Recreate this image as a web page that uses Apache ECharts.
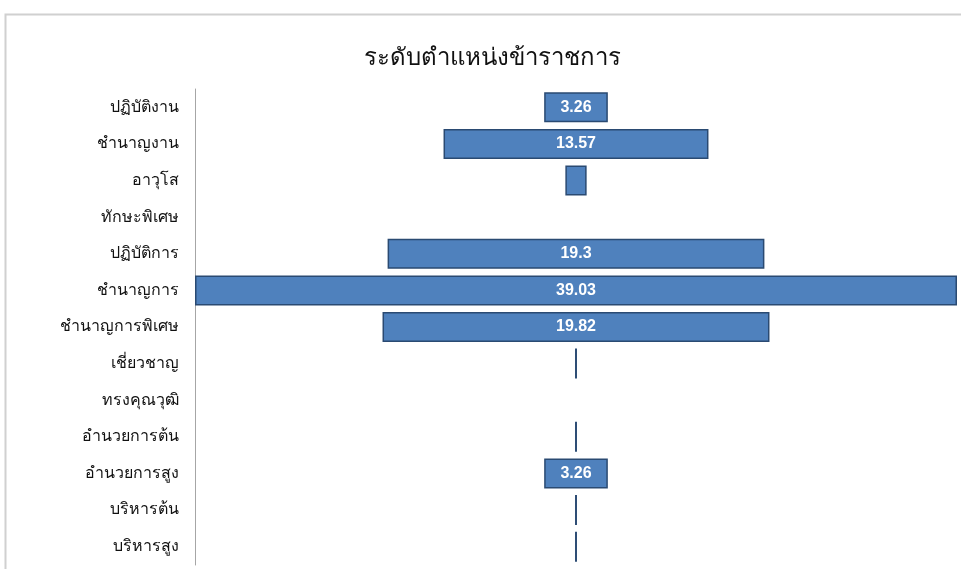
<!DOCTYPE html>
<html><head><meta charset="utf-8">
<script src="https://cdn.jsdelivr.net/npm/echarts@6/dist/echarts.min.js"></script>
<style>html,body{margin:0;padding:0;background:#fff}#c{width:961px;height:569px}</style>
</head><body><div id="c"></div>
<script>
const categories = ['ปฏิบัติงาน','ชำนาญงาน','อาวุโส','ทักษะพิเศษ','ปฏิบัติการ','ชำนาญการ','ชำนาญการพิเศษ','เชี่ยวชาญ','ทรงคุณวุฒิ','อำนวยการต้น','อำนวยการสูง','บริหารต้น','บริหารสูง'];
const values = [3.26, 13.57, 1.09, null, 19.3, 39.03, 19.82, 0.1, null, 0.1, 3.26, 0.1, 0.1];
const titleText = 'ระดับตำแหน่งข้าราชการ';

const maxV = Math.max(...values.filter(v => v != null));
const offsets = values.map(v => v == null ? null : (maxV - v) / 2);

const chart = echarts.init(document.getElementById('c'));
chart.setOption({
  animation: false,
  graphic: [{type:'rect', shape:{x:5.5,y:14.5,width:970,height:570}, style:{fill:'none', stroke:'#d0d0d0', lineWidth:2}, silent:true}],
  title: {text: titleText, left: 487, top: 41, textAlign: 'center',
    textStyle: {fontSize: 24, fontWeight: 'normal', color: '#111', fontFamily: 'sans-serif'}},
  grid: {left: 195, right: 4, top: 89, bottom: 4, containLabel: false},
  xAxis: {type: 'value', min: 0, max: maxV, show: false},
  yAxis: {type: 'category', data: categories, inverse: true,
    axisLine: {show: true, lineStyle: {color: '#a6a6a6', width: 1}},
    axisTick: {show: false},
    axisLabel: {fontSize: 16, color: '#111', margin: 16, fontFamily: 'sans-serif'}},
  series: [
    {type: 'bar', stack: 's', data: offsets, itemStyle: {color: 'transparent'}, barWidth: 30, silent: true},
    {type: 'bar', stack: 's', data: values, barWidth: 30,
      itemStyle: {color: '#4f81bd', borderColor: '#2a4a72', borderWidth: 1.5},
      label: {show: true, position: 'inside', color: '#fff', fontSize: 16, fontWeight: 'bold', fontFamily: 'sans-serif',
        formatter: p => (p.value != null && p.value >= 3) ? String(p.value) : ''}}
  ]
});
</script></body></html>
